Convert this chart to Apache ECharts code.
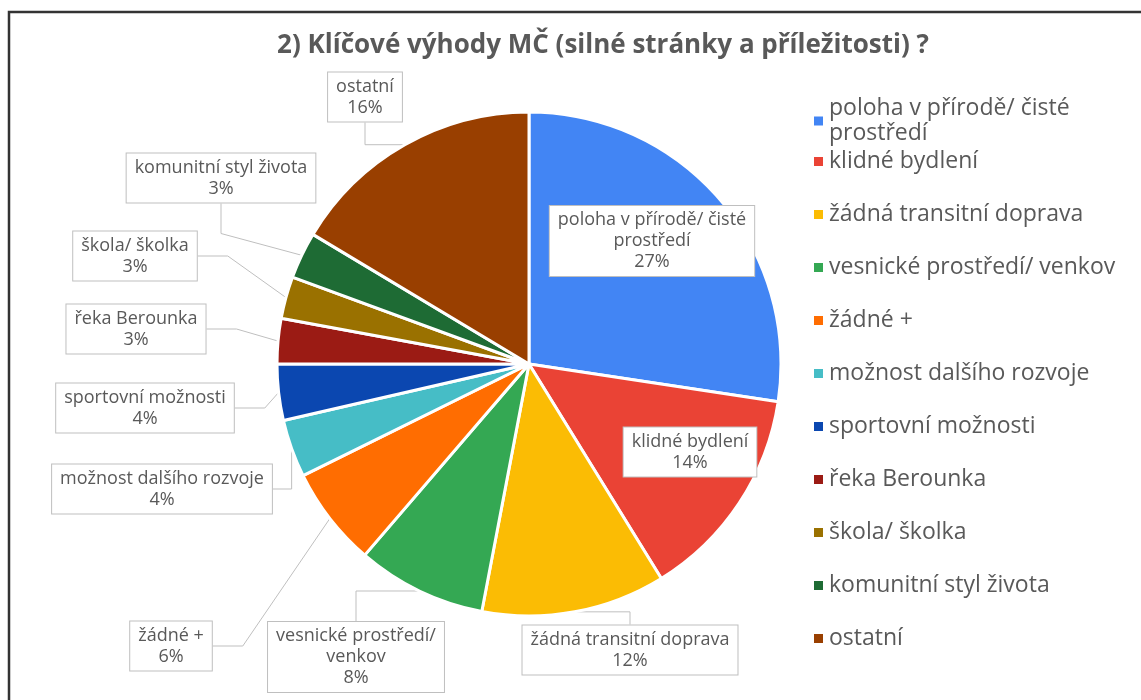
<!DOCTYPE html>
<html>
<head>
<meta charset="utf-8">
<script src="https://cdn.jsdelivr.net/npm/echarts@6/dist/echarts.min.js"></script>
<style>
    html, body { margin: 0; padding: 0; background: #fff; }
    #pie_chart { width: 1141px; height: 700px; }
</style>
</head>
<body>
<div id="pie_chart"></div>
<script>
// Categories (legend names)
var categories = [
    'poloha v přírodě/ čisté prostředí',
    'klidné bydlení',
    'žádná transitní doprava',
    'vesnické prostředí/ venkov',
    'žádné +',
    'možnost dalšího rozvoje',
    'sportovní možnosti',
    'řeka Berounka',
    'škola/ školka',
    'komunitní styl života',
    'ostatní'
];

// Share of answers
var values = [27.4, 13.8, 11.8, 8.3, 6.4, 3.7, 3.6, 2.9, 2.7, 3.0, 16.4];

// Label texts as wrapped in the data labels
var labelNames = [
    'poloha v přírodě/ čisté\nprostředí',
    'klidné bydlení',
    'žádná transitní doprava',
    'vesnické prostředí/\nvenkov',
    'žádné +',
    'možnost dalšího rozvoje',
    'sportovní možnosti',
    'řeka Berounka',
    'škola/ školka',
    'komunitní styl života',
    'ostatní'
];

var colors = ['#4285f4', '#ea4335', '#fbbc04', '#34a853', '#ff6d01', '#46bdc6',
              '#0b47b0', '#9b1b14', '#9a7100', '#1e6b34', '#993f00'];

// Label box centres (layout only)
var labelPos = [
    [652, 241], [690, 452], [630, 650], [356, 657], [171, 646], [162, 489],
    [145, 408], [136, 329], [135, 256], [221, 178], [365, 97]
];

var chartEl = document.getElementById('pie_chart');
var pieChart = echarts.init(chartEl);

var seriesData = categories.map(function (name, i) {
    var item = {
        name: name,
        value: values[i],
        itemStyle: { color: colors[i] }
    };
    if (i < 2) item.labelLine = { show: false };
    return item;
});

// Shared legend look
var legendBase = {
    orient: 'vertical',
    left: 807,
    itemWidth: 11,
    itemHeight: 11,
    itemGap: 28,
    icon: 'rect',
    selectedMode: false,
    textStyle: {
        color: '#595959',
        fontSize: 23,
        lineHeight: 25
    }
};

pieChart.setOption({
    animation: false,
    textStyle: {
        fontFamily: '"Open Sans", "Noto Sans", sans-serif'
    },

    title: {
        text: '2) Klíčové výhody MČ (silné stránky a příležitosti) ?',
        left: 598,
        top: 28,
        textAlign: 'center',
        textStyle: {
            color: '#595959',
            fontSize: 26,
            fontWeight: 'bold',
            fontFamily: '"Open Sans", sans-serif'
        }
    },

    // first item wraps onto a second line without pushing the rest down
    legend: [
        echarts.util.merge({
            top: 91,
            data: [categories[0]],
            formatter: function () {
                return 'poloha v přírodě/ čisté\nprostředí';
            }
        }, legendBase),
        echarts.util.merge({
            top: 144,
            data: categories.slice(1)
        }, legendBase)
    ],

    // Page frame
    graphic: [{
        type: 'rect',
        shape: { x: 9, y: 12, width: 1200, height: 800 },
        style: { fill: 'none', stroke: '#333', lineWidth: 2.5 },
        silent: true
    }],

    series: [{
        type: 'pie',
        center: [529, 364],
        radius: 252,
        startAngle: 90,
        clockwise: true,
        avoidLabelOverlap: false,
        itemStyle: {
            borderColor: '#fff',
            borderWidth: 3
        },
        label: {
            show: true,
            position: 'outside',
            formatter: function (p) {
                return labelNames[p.dataIndex] + '\n' + Math.round(p.percent) + '%';
            },
            color: '#595959',
            fontSize: 18,
            lineHeight: 21,
            backgroundColor: '#fff',
            borderColor: '#bfbfbf',
            borderWidth: 1,
            padding: [4, 8, 3, 8],
            align: 'center'
        },
        labelLine: {
            show: true,
            lineStyle: { color: '#bfbfbf', width: 1 }
        },
        labelLayout: function (params) {
            var p = labelPos[params.dataIndex];
            return { x: p[0], y: p[1], align: 'center', verticalAlign: 'middle' };
        },
        emphasis: { disabled: true },
        data: seriesData
    }]
});
</script>
</body>
</html>
